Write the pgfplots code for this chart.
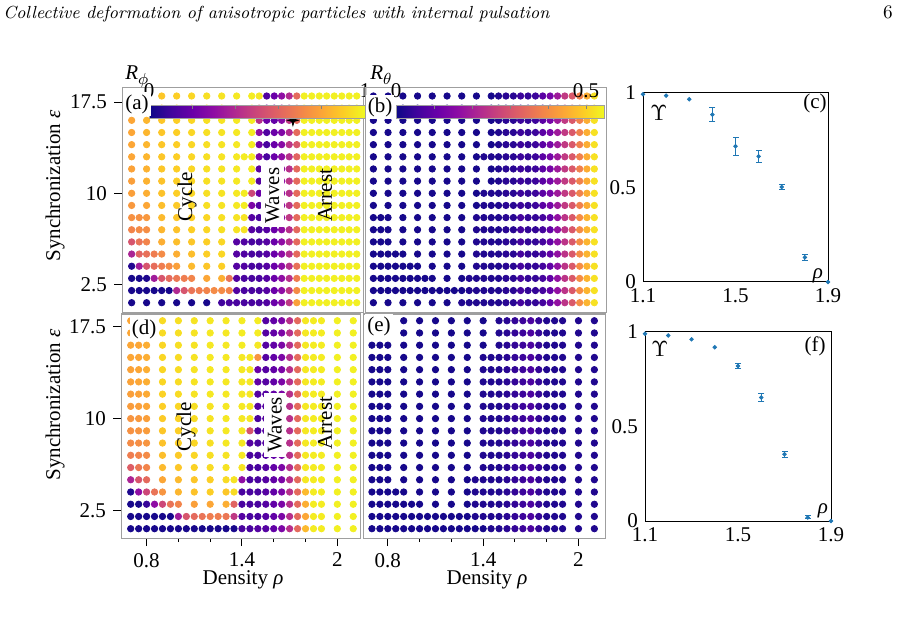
\documentclass[border=0pt]{standalone}
\usepackage{pgfplots}
\pgfplotsset{compat=1.18}
\usepackage{pgfplotstable}
\usepackage{fontspec}
\newfontfamily\tnr{Liberation Serif}
\newcommand\lab{\tnr\fontsize{10.5}{12}\selectfont}
\definecolor{mplblue}{RGB}{31,119,180}

% four-pointed star marker
\pgfdeclareplotmark{fourstar}{%
  \pgfpathmoveto{\pgfqpoint{0pt}{\pgfplotmarksize}}%
  \pgfpathlineto{\pgfqpoint{0.22\pgfplotmarksize}{0.22\pgfplotmarksize}}%
  \pgfpathlineto{\pgfqpoint{\pgfplotmarksize}{0pt}}%
  \pgfpathlineto{\pgfqpoint{0.22\pgfplotmarksize}{-0.22\pgfplotmarksize}}%
  \pgfpathlineto{\pgfqpoint{0pt}{-\pgfplotmarksize}}%
  \pgfpathlineto{\pgfqpoint{-0.22\pgfplotmarksize}{-0.22\pgfplotmarksize}}%
  \pgfpathlineto{\pgfqpoint{-\pgfplotmarksize}{0pt}}%
  \pgfpathlineto{\pgfqpoint{-0.22\pgfplotmarksize}{0.22\pgfplotmarksize}}%
  \pgfpathclose\pgfusepathqfillstroke}

\pgfplotsset{
  colormap={plasma}{rgb255=(13,8,135) rgb255=(65,4,157) rgb255=(106,0,168) rgb255=(143,13,164) rgb255=(177,42,144) rgb255=(204,71,120) rgb255=(225,100,98) rgb255=(242,132,75) rgb255=(252,166,54) rgb255=(252,206,37) rgb255=(240,249,33)},
  phase/.style={scale only axis, anchor=south west, colormap name=plasma,
    axis line style={gray!75, line width=0.5pt},
    tick style={black, line width=0.5pt}, tick align=outside,
    major tick length=4pt, minor tick length=2pt,
    xtick=\empty, ytick=\empty, ticklabel style={font=\lab}},
  dots/.style={scatter, only marks, mark=*, mark size=1.6pt, point meta=explicit,
    scatter/use mapped color={draw=mapped color, fill=mapped color}},
  ypanel/.style={ytick={2.5,10,17.5}, yticklabels={2.5,10,17.5}, ytick pos=left},
  xpanel/.style={xtick={0.8,1.4,2}, xticklabels={0.8,1.4,2}, minor xtick={1.0,1.2,1.6,1.8}, xtick pos=left},
  cbar/.style={colorbar horizontal, colorbar style={at={([yshift=7.2pt]parent axis.north west)}, anchor=north west,
    scale only axis, xshift=#1, height=6.5pt,
    xticklabel pos=right, xtick pos=right, tick align=inside, major tick length=2pt,
    tick style={gray, line width=0.4pt}, axis line style={gray!75, line width=0.5pt},
    ticklabel style={font=\lab}}},
  ups/.style={scale only axis, anchor=south west, xmin=1.1, xmax=1.9, ymin=0, ymax=1,
    xtick={1.1,1.5,1.9}, xticklabels={1.1,1.5,1.9}, ytick={0,0.5,1}, yticklabels={0,0.5,1},
    major tick length=2pt, tick style={draw=none}, ticklabel style={font=\lab},
    axis line style={black, line width=0.5pt}, clip=false},
  ebar/.style={mplblue, line width=0.5pt, unbounded coords=jump},
  ecap/.style={mplblue, only marks, mark=-, mark size=1.5pt, mark options={line width=0.5pt}},
  epnt/.style={mplblue, only marks, mark=*, mark size=0.9pt},
}

% upper row: x = density, y = synchronization, a = R_phi, b = R_theta
\pgfplotstableread[row sep=\\]{
x y a b\\
0.700 18 0.80 0.01\\ 0.793 18 0.84 0.01\\ 0.887 18 0.88 0.01\\ 0.980 18 0.90 0.01\\ 1.073 18 0.92 0.01\\ 1.167 18 0.94 0.01\\ 1.260 18 0.95 0.01\\ 1.353 18 0.96 0.01\\ 1.447 18 0.97 0.01\\
1.493 18 0.96 0.02\\ 1.540 18 0.14 0.03\\ 1.587 18 0.20 0.03\\ 1.633 18 0.30 0.05\\ 1.680 18 0.40 0.04\\ 1.727 18 0.62 0.05\\
1.773 18 0.98 0.09\\ 1.820 18 0.98 0.13\\ 1.867 18 0.98 0.19\\ 1.913 18 0.98 0.25\\ 1.960 18 0.98 0.31\\ 2.007 18 0.98 0.38\\ 2.053 18 0.98 0.45\\ 2.100 18 0.98 0.52\\
0.700 17 0.80 0.01\\ 0.793 17 0.84 0.01\\ 0.887 17 0.88 0.01\\ 0.980 17 0.90 0.01\\ 1.073 17 0.92 0.01\\ 1.167 17 0.94 0.01\\ 1.260 17 0.95 0.01\\ 1.353 17 0.96 0.01\\ 1.447 17 0.97 0.01\\
1.493 17 0.60 0.02\\ 1.540 17 0.18 0.03\\ 1.587 17 0.22 0.03\\ 1.633 17 0.34 0.05\\ 1.680 17 0.42 0.04\\ 1.727 17 0.64 0.05\\
1.773 17 0.98 0.09\\ 1.820 17 0.98 0.13\\ 1.867 17 0.98 0.19\\ 1.913 17 0.98 0.25\\ 1.960 17 0.98 0.31\\ 2.007 17 0.98 0.38\\ 2.053 17 0.98 0.45\\ 2.100 17 0.98 0.52\\
0.700 16 0.80 0.01\\ 0.793 16 0.84 0.01\\ 0.887 16 0.88 0.01\\ 0.980 16 0.90 0.01\\ 1.073 16 0.92 0.01\\ 1.167 16 0.94 0.01\\ 1.260 16 0.95 0.01\\ 1.353 16 0.96 0.01\\ 1.447 16 0.97 0.01\\
1.493 16 0.42 0.02\\ 1.540 16 0.20 0.03\\ 1.587 16 0.18 0.03\\ 1.633 16 0.28 0.05\\ 1.680 16 0.45 0.04\\ 1.727 16 0.62 0.05\\
1.773 16 0.98 0.09\\ 1.820 16 0.98 0.13\\ 1.867 16 0.98 0.19\\ 1.913 16 0.98 0.25\\ 1.960 16 0.98 0.31\\ 2.007 16 0.98 0.38\\ 2.053 16 0.98 0.45\\ 2.100 16 0.98 0.52\\
0.700 15 0.80 0.01\\ 0.793 15 0.84 0.01\\ 0.887 15 0.88 0.01\\ 0.980 15 0.90 0.01\\ 1.073 15 0.92 0.01\\ 1.167 15 0.94 0.01\\ 1.260 15 0.95 0.01\\ 1.353 15 0.96 0.01\\ 1.447 15 0.97 0.01\\
1.493 15 0.30 0.02\\ 1.540 15 0.14 0.03\\ 1.587 15 0.20 0.03\\ 1.633 15 0.26 0.05\\ 1.680 15 0.40 0.04\\ 1.727 15 0.62 0.05\\
1.773 15 0.98 0.09\\ 1.820 15 0.98 0.13\\ 1.867 15 0.98 0.19\\ 1.913 15 0.98 0.25\\ 1.960 15 0.98 0.31\\ 2.007 15 0.98 0.38\\ 2.053 15 0.98 0.45\\ 2.100 15 0.98 0.52\\
0.700 14 0.80 0.01\\ 0.793 14 0.84 0.01\\ 0.887 14 0.88 0.01\\ 0.980 14 0.90 0.01\\ 1.073 14 0.92 0.01\\ 1.167 14 0.94 0.01\\ 1.260 14 0.95 0.01\\ 1.353 14 0.96 0.01\\ 1.447 14 0.97 0.01\\
1.493 14 0.22 0.02\\ 1.540 14 0.12 0.03\\ 1.587 14 0.20 0.03\\ 1.633 14 0.28 0.05\\ 1.680 14 0.44 0.04\\ 1.727 14 0.56 0.05\\
1.773 14 0.98 0.09\\ 1.820 14 0.98 0.13\\ 1.867 14 0.98 0.19\\ 1.913 14 0.98 0.25\\ 1.960 14 0.98 0.31\\ 2.007 14 0.98 0.38\\ 2.053 14 0.98 0.45\\ 2.100 14 0.98 0.52\\
0.700 13 0.80 0.01\\ 0.793 13 0.84 0.01\\ 0.887 13 0.88 0.01\\ 0.980 13 0.90 0.01\\ 1.073 13 0.92 0.01\\ 1.167 13 0.94 0.01\\ 1.260 13 0.95 0.01\\ 1.353 13 0.96 0.01\\ 1.400 13 0.97 0.02\\ 1.447 13 0.97 0.02\\
1.493 13 0.25 0.02\\ 1.540 13 0.12 0.03\\ 1.587 13 0.20 0.03\\ 1.633 13 0.30 0.05\\ 1.680 13 0.42 0.04\\ 1.727 13 0.60 0.05\\
1.773 13 0.98 0.09\\ 1.820 13 0.98 0.13\\ 1.867 13 0.98 0.19\\ 1.913 13 0.98 0.25\\ 1.960 13 0.98 0.31\\ 2.007 13 0.98 0.38\\ 2.053 13 0.98 0.45\\ 2.100 13 0.98 0.52\\
0.700 12 0.79 0.01\\ 0.793 12 0.83 0.01\\ 0.887 12 0.88 0.01\\ 0.980 12 0.90 0.01\\ 1.073 12 0.92 0.01\\ 1.167 12 0.94 0.01\\ 1.260 12 0.95 0.01\\ 1.353 12 0.96 0.01\\ 1.447 12 0.97 0.01\\
1.493 12 0.16 0.02\\ 1.540 12 0.12 0.03\\ 1.587 12 0.22 0.03\\ 1.633 12 0.30 0.05\\ 1.680 12 0.42 0.04\\ 1.727 12 0.62 0.05\\
1.773 12 0.98 0.09\\ 1.820 12 0.98 0.13\\ 1.867 12 0.98 0.19\\ 1.913 12 0.98 0.25\\ 1.960 12 0.98 0.31\\ 2.007 12 0.98 0.38\\ 2.053 12 0.98 0.45\\ 2.100 12 0.98 0.52\\
0.700 11 0.78 0.01\\ 0.793 11 0.83 0.01\\ 0.887 11 0.87 0.01\\ 0.980 11 0.90 0.01\\ 1.073 11 0.92 0.01\\ 1.167 11 0.94 0.01\\ 1.260 11 0.95 0.01\\ 1.353 11 0.96 0.01\\ 1.447 11 0.97 0.01\\
1.493 11 0.15 0.02\\ 1.540 11 0.12 0.03\\ 1.587 11 0.20 0.03\\ 1.633 11 0.30 0.05\\ 1.680 11 0.44 0.04\\ 1.727 11 0.62 0.05\\
1.773 11 0.98 0.09\\ 1.820 11 0.98 0.13\\ 1.867 11 0.98 0.19\\ 1.913 11 0.98 0.25\\ 1.960 11 0.98 0.31\\ 2.007 11 0.98 0.38\\ 2.053 11 0.98 0.45\\ 2.100 11 0.98 0.52\\
0.700 10 0.78 0.01\\ 0.793 10 0.82 0.01\\ 0.887 10 0.87 0.01\\ 0.980 10 0.90 0.01\\ 1.073 10 0.92 0.01\\ 1.167 10 0.94 0.01\\ 1.260 10 0.95 0.01\\ 1.353 10 0.96 0.01\\ 1.400 10 0.97 0.02\\ 1.447 10 0.50 0.02\\
1.493 10 0.20 0.02\\ 1.540 10 0.12 0.03\\ 1.587 10 0.20 0.03\\ 1.633 10 0.30 0.05\\ 1.680 10 0.42 0.04\\ 1.727 10 0.62 0.05\\
1.773 10 0.98 0.09\\ 1.820 10 0.98 0.13\\ 1.867 10 0.98 0.19\\ 1.913 10 0.98 0.25\\ 1.960 10 0.98 0.31\\ 2.007 10 0.98 0.38\\ 2.053 10 0.98 0.45\\ 2.100 10 0.98 0.52\\
0.700 9 0.76 0.01\\ 0.793 9 0.80 0.01\\ 0.887 9 0.86 0.01\\ 0.980 9 0.89 0.01\\ 1.073 9 0.92 0.01\\ 1.167 9 0.94 0.01\\ 1.260 9 0.95 0.01\\ 1.353 9 0.96 0.01\\ 1.400 9 0.97 0.02\\ 1.447 9 0.25 0.02\\
1.493 9 0.15 0.02\\ 1.540 9 0.12 0.03\\ 1.587 9 0.20 0.03\\ 1.633 9 0.30 0.05\\ 1.680 9 0.44 0.04\\ 1.727 9 0.62 0.05\\
1.773 9 0.98 0.09\\ 1.820 9 0.98 0.13\\ 1.867 9 0.98 0.19\\ 1.913 9 0.98 0.25\\ 1.960 9 0.98 0.31\\ 2.007 9 0.98 0.38\\ 2.053 9 0.98 0.45\\ 2.100 9 0.98 0.52\\
0.700 8 0.74 0.01\\ 0.747 8 0.74 0.01\\ 0.793 8 0.76 0.01\\ 0.887 8 0.85 0.01\\ 0.980 8 0.88 0.01\\ 1.073 8 0.90 0.01\\ 1.167 8 0.92 0.01\\ 1.260 8 0.94 0.01\\ 1.353 8 0.95 0.02\\ 1.400 8 0.95 0.02\\ 1.447 8 0.15 0.02\\
1.493 8 0.12 0.02\\ 1.540 8 0.12 0.03\\ 1.587 8 0.20 0.03\\ 1.633 8 0.30 0.06\\ 1.680 8 0.45 0.04\\ 1.727 8 0.62 0.04\\
1.773 8 0.98 0.06\\ 1.820 8 0.98 0.10\\ 1.867 8 0.98 0.17\\ 1.913 8 0.98 0.24\\ 1.960 8 0.98 0.31\\ 2.007 8 0.98 0.40\\ 2.053 8 0.98 0.46\\ 2.100 8 0.98 0.52\\
0.700 7 0.70 0.01\\ 0.747 7 0.72 0.01\\ 0.793 7 0.73 0.01\\ 0.887 7 0.84 0.01\\ 0.980 7 0.87 0.01\\ 1.073 7 0.90 0.01\\ 1.167 7 0.92 0.01\\ 1.260 7 0.94 0.01\\ 1.353 7 0.95 0.02\\ 1.400 7 0.95 0.02\\ 1.447 7 0.15 0.02\\
1.493 7 0.12 0.02\\ 1.540 7 0.15 0.03\\ 1.587 7 0.20 0.03\\ 1.633 7 0.30 0.06\\ 1.680 7 0.42 0.04\\ 1.727 7 0.62 0.04\\
1.773 7 0.98 0.06\\ 1.820 7 0.98 0.10\\ 1.867 7 0.98 0.17\\ 1.913 7 0.98 0.24\\ 1.960 7 0.98 0.31\\ 2.007 7 0.98 0.40\\ 2.053 7 0.98 0.46\\ 2.100 7 0.98 0.52\\
0.700 6 0.55 0.01\\ 0.747 6 0.65 0.01\\ 0.793 6 0.70 0.01\\ 0.887 6 0.82 0.01\\ 0.980 6 0.86 0.01\\ 1.073 6 0.88 0.01\\ 1.167 6 0.90 0.01\\ 1.260 6 0.92 0.01\\ 1.353 6 0.15 0.02\\ 1.400 6 0.14 0.02\\ 1.447 6 0.12 0.02\\
1.493 6 0.12 0.02\\ 1.540 6 0.15 0.03\\ 1.587 6 0.20 0.03\\ 1.633 6 0.30 0.06\\ 1.680 6 0.42 0.04\\ 1.727 6 0.62 0.04\\
1.773 6 0.98 0.06\\ 1.820 6 0.98 0.10\\ 1.867 6 0.98 0.17\\ 1.913 6 0.98 0.24\\ 1.960 6 0.98 0.31\\ 2.007 6 0.98 0.40\\ 2.053 6 0.98 0.46\\ 2.100 6 0.98 0.52\\
0.700 5 0.38 0.01\\ 0.747 5 0.60 0.01\\ 0.793 5 0.64 0.01\\ 0.840 5 0.68 0.01\\ 0.887 5 0.72 0.01\\ 0.980 5 0.82 0.01\\ 1.073 5 0.86 0.01\\ 1.167 5 0.90 0.01\\ 1.260 5 0.92 0.01\\ 1.353 5 0.15 0.02\\ 1.400 5 0.14 0.02\\ 1.447 5 0.12 0.02\\
1.493 5 0.12 0.02\\ 1.540 5 0.15 0.03\\ 1.587 5 0.20 0.03\\ 1.633 5 0.30 0.06\\ 1.680 5 0.42 0.04\\ 1.727 5 0.62 0.04\\
1.773 5 0.98 0.06\\ 1.820 5 0.98 0.10\\ 1.867 5 0.98 0.17\\ 1.913 5 0.98 0.24\\ 1.960 5 0.98 0.31\\ 2.007 5 0.98 0.40\\ 2.053 5 0.98 0.46\\ 2.100 5 0.98 0.52\\
0.700 4 0.04 0.01\\ 0.747 4 0.35 0.01\\ 0.793 4 0.55 0.01\\ 0.840 4 0.63 0.01\\ 0.887 4 0.68 0.01\\ 0.933 4 0.72 0.01\\ 0.980 4 0.78 0.01\\ 1.073 4 0.85 0.01\\ 1.167 4 0.88 0.01\\ 1.260 4 0.90 0.01\\ 1.353 4 0.15 0.02\\ 1.400 4 0.14 0.02\\ 1.447 4 0.12 0.02\\
1.493 4 0.12 0.02\\ 1.540 4 0.15 0.03\\ 1.587 4 0.20 0.03\\ 1.633 4 0.30 0.06\\ 1.680 4 0.42 0.04\\ 1.727 4 0.64 0.04\\
1.773 4 0.98 0.06\\ 1.820 4 0.98 0.10\\ 1.867 4 0.98 0.17\\ 1.913 4 0.98 0.24\\ 1.960 4 0.98 0.31\\ 2.007 4 0.98 0.40\\ 2.053 4 0.98 0.46\\ 2.100 4 0.98 0.52\\
0.700 3 0.02 0.01\\ 0.747 3 0.02 0.01\\ 0.793 3 0.03 0.01\\ 0.840 3 0.35 0.01\\ 0.887 3 0.55 0.01\\ 0.933 3 0.62 0.01\\ 0.980 3 0.66 0.01\\ 1.027 3 0.68 0.01\\ 1.073 3 0.70 0.01\\ 1.167 3 0.80 0.01\\ 1.260 3 0.82 0.01\\ 1.307 3 0.65 0.02\\ 1.353 3 0.14 0.02\\ 1.400 3 0.12 0.02\\ 1.447 3 0.12 0.02\\
1.493 3 0.12 0.02\\ 1.540 3 0.15 0.03\\ 1.587 3 0.20 0.03\\ 1.633 3 0.30 0.06\\ 1.680 3 0.42 0.04\\ 1.727 3 0.68 0.04\\
1.773 3 0.98 0.06\\ 1.820 3 0.98 0.10\\ 1.867 3 0.98 0.17\\ 1.913 3 0.98 0.24\\ 1.960 3 0.98 0.31\\ 2.007 3 0.98 0.40\\ 2.053 3 0.98 0.46\\ 2.100 3 0.98 0.52\\
0.700 2 0.02 0.01\\ 0.747 2 0.02 0.01\\ 0.793 2 0.02 0.01\\ 0.840 2 0.02 0.01\\ 0.887 2 0.02 0.01\\ 0.933 2 0.02 0.01\\ 0.980 2 0.40 0.01\\ 1.027 2 0.55 0.01\\ 1.073 2 0.65 0.01\\ 1.120 2 0.68 0.01\\ 1.167 2 0.70 0.01\\ 1.213 2 0.72 0.01\\ 1.260 2 0.72 0.01\\ 1.307 2 0.70 0.02\\ 1.353 2 0.14 0.02\\ 1.400 2 0.12 0.02\\ 1.447 2 0.12 0.02\\
1.493 2 0.12 0.02\\ 1.540 2 0.15 0.03\\ 1.587 2 0.20 0.03\\ 1.633 2 0.30 0.06\\ 1.680 2 0.45 0.04\\ 1.727 2 0.72 0.04\\
1.773 2 0.98 0.06\\ 1.820 2 0.98 0.10\\ 1.867 2 0.98 0.17\\ 1.913 2 0.98 0.24\\ 1.960 2 0.98 0.31\\ 2.007 2 0.98 0.40\\ 2.053 2 0.98 0.46\\ 2.100 2 0.98 0.52\\
0.700 1 0.02 0.01\\ 0.793 1 0.02 0.01\\ 0.887 1 0.02 0.01\\ 0.980 1 0.02 0.01\\ 1.073 1 0.02 0.01\\ 1.167 1 0.02 0.01\\ 1.260 1 0.10 0.02\\ 1.307 1 0.12 0.02\\ 1.353 1 0.12 0.02\\ 1.400 1 0.12 0.02\\ 1.447 1 0.12 0.02\\
1.493 1 0.12 0.02\\ 1.540 1 0.14 0.03\\ 1.587 1 0.20 0.03\\ 1.633 1 0.28 0.06\\ 1.680 1 0.45 0.04\\ 1.727 1 0.78 0.04\\
1.773 1 0.98 0.06\\ 1.820 1 0.98 0.10\\ 1.867 1 0.98 0.17\\ 1.913 1 0.98 0.24\\ 1.960 1 0.98 0.31\\ 2.007 1 0.98 0.40\\ 2.053 1 0.98 0.46\\ 2.100 1 0.98 0.52\\
}\gridtop

% lower row: x = density, y = synchronization, d = R_phi, e = R_theta
\pgfplotstableread[row sep=\\]{
x y d e\\
0.7 18 0.80 0.01\\ 0.8 18 0.85 0.01\\ 0.9 18 0.93 0.01\\ 1.0 18 0.94 0.01\\ 1.1 18 0.95 0.01\\ 1.2 18 0.96 0.01\\ 1.3 18 0.96 0.01\\ 1.4 18 0.97 0.01\\ 1.5 18 0.97 0.02\\
1.55 18 0.15 0.03\\ 1.6 18 0.18 0.04\\ 1.65 18 0.25 0.05\\ 1.7 18 0.42 0.07\\ 1.75 18 0.62 0.04\\ 1.8 18 0.96 0.02\\ 1.85 18 0.97 0.02\\ 1.9 18 0.97 0.02\\ 2.0 18 0.98 0.02\\ 2.1 18 0.98 0.02\\
0.7 17 0.80 0.01\\ 0.8 17 0.85 0.01\\ 0.9 17 0.93 0.01\\ 1.0 17 0.94 0.01\\ 1.1 17 0.95 0.01\\ 1.2 17 0.96 0.01\\ 1.3 17 0.96 0.01\\ 1.4 17 0.97 0.01\\ 1.5 17 0.97 0.02\\
1.55 17 0.15 0.03\\ 1.6 17 0.18 0.04\\ 1.65 17 0.25 0.05\\ 1.7 17 0.42 0.07\\ 1.75 17 0.62 0.04\\ 1.8 17 0.96 0.02\\ 1.85 17 0.97 0.02\\ 1.9 17 0.97 0.02\\ 2.0 17 0.98 0.02\\ 2.1 17 0.98 0.02\\
0.7 16 0.80 0.01\\ 0.75 16 0.80 0.01\\ 0.8 16 0.82 0.01\\ 0.9 16 0.92 0.01\\ 1.0 16 0.94 0.01\\ 1.1 16 0.95 0.01\\ 1.2 16 0.96 0.01\\ 1.3 16 0.96 0.01\\ 1.4 16 0.97 0.01\\ 1.5 16 0.96 0.02\\
1.55 16 0.15 0.03\\ 1.6 16 0.18 0.04\\ 1.65 16 0.25 0.05\\ 1.7 16 0.42 0.07\\ 1.75 16 0.62 0.04\\ 1.8 16 0.96 0.02\\ 1.85 16 0.97 0.02\\ 1.9 16 0.97 0.02\\ 2.0 16 0.98 0.02\\ 2.1 16 0.98 0.02\\
0.7 15 0.80 0.01\\ 0.75 15 0.80 0.01\\ 0.8 15 0.82 0.01\\ 0.9 15 0.92 0.01\\ 1.0 15 0.93 0.01\\ 1.1 15 0.95 0.01\\ 1.2 15 0.96 0.01\\ 1.3 15 0.96 0.01\\ 1.4 15 0.96 0.02\\ 1.45 15 0.96 0.02\\ 1.5 15 0.75 0.02\\
1.55 15 0.15 0.03\\ 1.6 15 0.18 0.04\\ 1.65 15 0.25 0.05\\ 1.7 15 0.42 0.07\\ 1.75 15 0.62 0.04\\ 1.8 15 0.96 0.02\\ 1.85 15 0.97 0.02\\ 1.9 15 0.97 0.02\\ 2.0 15 0.98 0.02\\ 2.1 15 0.98 0.02\\
0.7 14 0.79 0.01\\ 0.75 14 0.80 0.01\\ 0.8 14 0.82 0.01\\ 0.9 14 0.92 0.01\\ 1.0 14 0.93 0.01\\ 1.1 14 0.95 0.01\\ 1.2 14 0.96 0.01\\ 1.3 14 0.96 0.01\\ 1.4 14 0.96 0.02\\ 1.45 14 0.96 0.02\\ 1.5 14 0.20 0.02\\
1.55 14 0.15 0.03\\ 1.6 14 0.18 0.04\\ 1.65 14 0.25 0.05\\ 1.7 14 0.42 0.07\\ 1.75 14 0.62 0.04\\ 1.8 14 0.96 0.02\\ 1.85 14 0.97 0.02\\ 1.9 14 0.97 0.02\\ 2.0 14 0.98 0.02\\ 2.1 14 0.98 0.02\\
0.7 13 0.79 0.01\\ 0.75 13 0.80 0.01\\ 0.8 13 0.82 0.01\\ 0.9 13 0.92 0.01\\ 1.0 13 0.93 0.01\\ 1.1 13 0.95 0.01\\ 1.2 13 0.96 0.01\\ 1.3 13 0.96 0.01\\ 1.4 13 0.96 0.02\\ 1.45 13 0.96 0.02\\ 1.5 13 0.18 0.02\\
1.55 13 0.15 0.03\\ 1.6 13 0.18 0.04\\ 1.65 13 0.25 0.05\\ 1.7 13 0.42 0.07\\ 1.75 13 0.62 0.04\\ 1.8 13 0.96 0.02\\ 1.85 13 0.97 0.02\\ 1.9 13 0.97 0.02\\ 2.0 13 0.98 0.02\\ 2.1 13 0.98 0.02\\
0.7 12 0.78 0.01\\ 0.75 12 0.79 0.01\\ 0.8 12 0.81 0.01\\ 0.9 12 0.91 0.01\\ 1.0 12 0.93 0.01\\ 1.1 12 0.95 0.01\\ 1.2 12 0.96 0.01\\ 1.3 12 0.96 0.01\\ 1.4 12 0.96 0.02\\ 1.45 12 0.96 0.02\\ 1.5 12 0.15 0.02\\
1.55 12 0.15 0.03\\ 1.6 12 0.18 0.04\\ 1.65 12 0.25 0.05\\ 1.7 12 0.42 0.07\\ 1.75 12 0.62 0.04\\ 1.8 12 0.96 0.02\\ 1.85 12 0.97 0.02\\ 1.9 12 0.97 0.02\\ 2.0 12 0.98 0.02\\ 2.1 12 0.98 0.02\\
0.7 11 0.77 0.01\\ 0.75 11 0.78 0.01\\ 0.8 11 0.80 0.01\\ 0.9 11 0.90 0.01\\ 1.0 11 0.92 0.01\\ 1.1 11 0.94 0.01\\ 1.2 11 0.95 0.01\\ 1.3 11 0.96 0.01\\ 1.4 11 0.96 0.02\\ 1.45 11 0.96 0.02\\ 1.5 11 0.15 0.02\\
1.55 11 0.15 0.03\\ 1.6 11 0.18 0.04\\ 1.65 11 0.25 0.05\\ 1.7 11 0.42 0.07\\ 1.75 11 0.62 0.04\\ 1.8 11 0.96 0.02\\ 1.85 11 0.97 0.02\\ 1.9 11 0.97 0.02\\ 2.0 11 0.98 0.02\\ 2.1 11 0.98 0.02\\
0.7 10 0.75 0.01\\ 0.75 10 0.76 0.01\\ 0.8 10 0.78 0.01\\ 0.9 10 0.89 0.01\\ 1.0 10 0.91 0.01\\ 1.1 10 0.93 0.01\\ 1.2 10 0.95 0.01\\ 1.3 10 0.96 0.01\\ 1.4 10 0.96 0.02\\ 1.45 10 0.96 0.02\\ 1.5 10 0.12 0.02\\
1.55 10 0.15 0.03\\ 1.6 10 0.18 0.04\\ 1.65 10 0.25 0.05\\ 1.7 10 0.42 0.07\\ 1.75 10 0.62 0.04\\ 1.8 10 0.96 0.02\\ 1.85 10 0.97 0.02\\ 1.9 10 0.97 0.02\\ 2.0 10 0.98 0.02\\ 2.1 10 0.98 0.02\\
0.7 9 0.74 0.01\\ 0.75 9 0.75 0.01\\ 0.8 9 0.77 0.01\\ 0.9 9 0.88 0.01\\ 1.0 9 0.90 0.01\\ 1.1 9 0.93 0.01\\ 1.2 9 0.95 0.01\\ 1.3 9 0.96 0.01\\ 1.4 9 0.96 0.02\\ 1.45 9 0.55 0.02\\ 1.5 9 0.12 0.02\\
1.55 9 0.15 0.03\\ 1.6 9 0.18 0.04\\ 1.65 9 0.25 0.05\\ 1.7 9 0.42 0.07\\ 1.75 9 0.62 0.04\\ 1.8 9 0.96 0.02\\ 1.85 9 0.97 0.02\\ 1.9 9 0.97 0.02\\ 2.0 9 0.98 0.02\\ 2.1 9 0.98 0.02\\
0.7 8 0.72 0.01\\ 0.75 8 0.73 0.01\\ 0.8 8 0.75 0.01\\ 0.9 8 0.87 0.01\\ 1.0 8 0.90 0.01\\ 1.1 8 0.92 0.01\\ 1.2 8 0.94 0.01\\ 1.3 8 0.96 0.01\\ 1.4 8 0.96 0.02\\ 1.45 8 0.15 0.02\\ 1.5 8 0.12 0.02\\
1.55 8 0.15 0.03\\ 1.6 8 0.18 0.04\\ 1.65 8 0.25 0.05\\ 1.7 8 0.42 0.07\\ 1.75 8 0.62 0.04\\ 1.8 8 0.96 0.02\\ 1.85 8 0.97 0.02\\ 1.9 8 0.97 0.02\\ 2.0 8 0.98 0.02\\ 2.1 8 0.98 0.02\\
0.7 7 0.68 0.01\\ 0.75 7 0.70 0.01\\ 0.8 7 0.72 0.01\\ 0.9 7 0.86 0.01\\ 1.0 7 0.89 0.01\\ 1.1 7 0.92 0.01\\ 1.2 7 0.94 0.01\\ 1.3 7 0.95 0.01\\ 1.4 7 0.96 0.02\\ 1.45 7 0.12 0.02\\ 1.5 7 0.12 0.02\\
1.55 7 0.15 0.03\\ 1.6 7 0.18 0.04\\ 1.65 7 0.25 0.05\\ 1.7 7 0.42 0.07\\ 1.75 7 0.62 0.04\\ 1.8 7 0.96 0.02\\ 1.85 7 0.97 0.02\\ 1.9 7 0.97 0.02\\ 2.0 7 0.98 0.02\\ 2.1 7 0.98 0.02\\
0.7 6 0.58 0.01\\ 0.75 6 0.66 0.01\\ 0.8 6 0.70 0.01\\ 0.9 6 0.85 0.01\\ 1.0 6 0.88 0.01\\ 1.1 6 0.91 0.01\\ 1.2 6 0.93 0.01\\ 1.3 6 0.95 0.01\\ 1.4 6 0.95 0.02\\ 1.45 6 0.12 0.02\\ 1.5 6 0.12 0.02\\
1.55 6 0.15 0.03\\ 1.6 6 0.18 0.04\\ 1.65 6 0.25 0.05\\ 1.7 6 0.42 0.07\\ 1.75 6 0.62 0.04\\ 1.8 6 0.96 0.02\\ 1.85 6 0.97 0.02\\ 1.9 6 0.97 0.02\\ 2.0 6 0.98 0.02\\ 2.1 6 0.98 0.02\\
0.7 5 0.38 0.01\\ 0.75 5 0.55 0.01\\ 0.8 5 0.62 0.01\\ 0.9 5 0.80 0.01\\ 1.0 5 0.85 0.01\\ 1.1 5 0.88 0.01\\ 1.2 5 0.90 0.01\\ 1.3 5 0.93 0.01\\ 1.35 5 0.95 0.02\\ 1.4 5 0.30 0.02\\ 1.45 5 0.12 0.02\\ 1.5 5 0.12 0.02\\
1.55 5 0.15 0.03\\ 1.6 5 0.18 0.04\\ 1.65 5 0.25 0.05\\ 1.7 5 0.42 0.07\\ 1.75 5 0.62 0.04\\ 1.8 5 0.96 0.02\\ 1.85 5 0.97 0.02\\ 1.9 5 0.97 0.02\\ 2.0 5 0.98 0.02\\ 2.1 5 0.98 0.02\\
0.7 4 0.03 0.01\\ 0.75 4 0.30 0.01\\ 0.8 4 0.50 0.01\\ 0.85 4 0.65 0.01\\ 0.9 4 0.75 0.01\\ 1.0 4 0.84 0.01\\ 1.1 4 0.87 0.01\\ 1.2 4 0.90 0.01\\ 1.3 4 0.88 0.01\\ 1.35 4 0.93 0.02\\ 1.4 4 0.12 0.02\\ 1.45 4 0.12 0.02\\ 1.5 4 0.12 0.02\\
1.55 4 0.15 0.03\\ 1.6 4 0.18 0.04\\ 1.65 4 0.25 0.05\\ 1.7 4 0.42 0.07\\ 1.75 4 0.62 0.04\\ 1.8 4 0.85 0.02\\ 1.85 4 0.97 0.02\\ 1.9 4 0.97 0.02\\ 2.0 4 0.98 0.02\\ 2.1 4 0.98 0.02\\
0.7 3 0.02 0.01\\ 0.75 3 0.02 0.01\\ 0.8 3 0.08 0.01\\ 0.85 3 0.30 0.01\\ 0.9 3 0.50 0.01\\ 0.95 3 0.65 0.01\\ 1.0 3 0.70 0.01\\ 1.1 3 0.78 0.01\\ 1.2 3 0.80 0.01\\ 1.3 3 0.82 0.01\\ 1.35 3 0.60 0.02\\ 1.4 3 0.12 0.02\\ 1.45 3 0.12 0.02\\ 1.5 3 0.12 0.02\\
1.55 3 0.15 0.03\\ 1.6 3 0.18 0.04\\ 1.65 3 0.25 0.05\\ 1.7 3 0.42 0.07\\ 1.75 3 0.62 0.04\\ 1.8 3 0.82 0.02\\ 1.85 3 0.97 0.02\\ 1.9 3 0.97 0.02\\ 2.0 3 0.98 0.02\\ 2.1 3 0.98 0.02\\
0.7 2 0.02 0.01\\ 0.75 2 0.02 0.01\\ 0.8 2 0.02 0.01\\ 0.85 2 0.02 0.01\\ 0.9 2 0.02 0.01\\ 0.95 2 0.02 0.01\\ 1.0 2 0.35 0.01\\ 1.05 2 0.55 0.01\\ 1.1 2 0.62 0.01\\ 1.15 2 0.65 0.01\\ 1.2 2 0.68 0.01\\ 1.25 2 0.68 0.01\\ 1.3 2 0.66 0.01\\ 1.35 2 0.45 0.02\\ 1.4 2 0.15 0.02\\ 1.45 2 0.12 0.02\\ 1.5 2 0.12 0.02\\
1.55 2 0.15 0.03\\ 1.6 2 0.18 0.04\\ 1.65 2 0.25 0.05\\ 1.7 2 0.42 0.07\\ 1.75 2 0.62 0.04\\ 1.8 2 0.80 0.02\\ 1.85 2 0.97 0.02\\ 1.9 2 0.97 0.02\\ 2.0 2 0.98 0.02\\ 2.1 2 0.98 0.02\\
0.7 1 0.02 0.01\\ 0.75 1 0.02 0.01\\ 0.8 1 0.02 0.01\\ 0.85 1 0.02 0.01\\ 0.9 1 0.02 0.01\\ 0.95 1 0.02 0.01\\ 1.0 1 0.02 0.01\\ 1.05 1 0.02 0.01\\ 1.1 1 0.02 0.01\\ 1.15 1 0.02 0.01\\ 1.2 1 0.02 0.01\\ 1.25 1 0.02 0.01\\ 1.3 1 0.02 0.01\\ 1.35 1 0.02 0.01\\ 1.4 1 0.12 0.01\\ 1.45 1 0.12 0.02\\ 1.5 1 0.15 0.02\\
1.55 1 0.15 0.03\\ 1.6 1 0.18 0.04\\ 1.65 1 0.25 0.05\\ 1.7 1 0.42 0.07\\ 1.75 1 0.62 0.04\\ 1.8 1 0.85 0.02\\ 1.85 1 0.97 0.02\\ 1.9 1 0.97 0.02\\ 2.0 1 0.98 0.02\\ 2.1 1 0.98 0.02\\
}\gridbottom

\begin{document}
\begin{tikzpicture}[x=0.5pt,y=0.5pt]
\path[use as bounding box] (0,0) rectangle (898,621);

% running head
\node[anchor=base west, inner sep=0pt, font=\itshape\fontsize{8.75}{11}\selectfont] at (3,602)
  {Collective deformation of anisotropic particles with internal pulsation};
\node[anchor=base east, inner sep=0pt, font=\fontsize{9.6}{11}\selectfont] at (893,602) {6};

% (c) order parameter versus density, upper row
\begin{axis}[ups, at={(321.5pt,169.5pt)}, width=92.5pt, height=94.5pt]
\addplot[ebar] coordinates {
 (1.1,0.990) (1.1,0.996) (1.1,nan)
 (1.2,0.982) (1.2,0.990) (1.2,nan)
 (1.3,0.963) (1.3,0.971) (1.3,nan)
 (1.4,0.849) (1.4,0.923) (1.4,nan)
 (1.5,0.669) (1.5,0.767) (1.5,nan)
 (1.6,0.632) (1.6,0.698) (1.6,nan)
 (1.7,0.489) (1.7,0.517) (1.7,nan)
 (1.8,0.112) (1.8,0.148)};
\addplot[ecap] coordinates {(1.4,0.849) (1.4,0.923) (1.5,0.669) (1.5,0.767) (1.6,0.632) (1.6,0.698)
 (1.7,0.489) (1.7,0.517) (1.8,0.112) (1.8,0.148)};
\addplot[epnt] coordinates {(1.1,0.993) (1.2,0.986) (1.3,0.967) (1.4,0.886) (1.5,0.718)
 (1.6,0.665) (1.7,0.503) (1.8,0.130) (1.9,0)};
\end{axis}

% (f) order parameter versus density, lower row
\begin{axis}[ups, at={(322.5pt,50pt)}, width=93pt, height=94.5pt]
\addplot[ebar] coordinates {
 (1.1,0.988) (1.1,0.994) (1.1,nan)
 (1.2,0.978) (1.2,0.986) (1.2,nan)
 (1.3,0.957) (1.3,0.965) (1.3,nan)
 (1.4,0.914) (1.4,0.924) (1.4,nan)
 (1.5,0.808) (1.5,0.832) (1.5,nan)
 (1.6,0.634) (1.6,0.672) (1.6,nan)
 (1.7,0.337) (1.7,0.369) (1.7,nan)
 (1.8,0.011) (1.8,0.027)};
\addplot[ecap] coordinates {(1.5,0.808) (1.5,0.832) (1.6,0.634) (1.6,0.672)
 (1.7,0.337) (1.7,0.369) (1.8,0.011) (1.8,0.027)};
\addplot[epnt] coordinates {(1.1,0.991) (1.2,0.982) (1.3,0.961) (1.4,0.919) (1.5,0.820)
 (1.6,0.653) (1.7,0.353) (1.8,0.019) (1.9,0)};
\end{axis}

% (a) R_phi, upper row
\begin{axis}[phase, ypanel, at={(61pt,154pt)}, width=120.75pt, height=112.5pt,
  xmin=0.64, xmax=2.142, ymin=0.153, ymax=18.66, point meta min=0, point meta max=1,
  cbar=13.5pt, colorbar style={width=108pt, xtick={0,0.2,0.4,0.6,0.8,1}, xticklabels={0,,,,,1}}]
\addplot[dots] table[x=x, y=y, meta=a] {\gridtop};
\addplot[only marks, mark=fourstar, mark size=2.6pt, black] coordinates {(1.703,16)};
\end{axis}
% (b) R_theta, upper row
\begin{axis}[phase, at={(182.5pt,154pt)}, width=120.5pt, height=112.5pt,
  xmin=0.647, xmax=2.174, ymin=0.153, ymax=18.66, point meta min=0, point meta max=0.55,
  cbar=15.5pt, colorbar style={width=104.5pt, xtick={0,0.1,0.2,0.3,0.4,0.5}, xticklabels={0,,,,,0.5}}]
\addplot[dots] table[x=x, y=y, meta=b] {\gridtop};
\end{axis}
% (d) R_phi, lower row
\begin{axis}[phase, ypanel, xpanel, at={(60.5pt,41.5pt)}, width=119.85pt, height=112pt,
  xmin=0.639, xmax=2.147, ymin=0.24, ymax=18.55, point meta min=0, point meta max=1]
\addplot[dots] table[x=x, y=y, meta=d] {\gridbottom};
\end{axis}
% (e) R_theta, lower row
\begin{axis}[phase, xpanel, at={(181.75pt,41.5pt)}, width=120.75pt, height=112pt,
  xmin=0.647, xmax=2.167, ymin=0.24, ymax=18.55, point meta min=0, point meta max=0.55]
\addplot[dots] table[x=x, y=y, meta=e] {\gridbottom};
\end{axis}

\node[anchor=base west, inner sep=0pt] at (125,541) {\lab\itshape R\raisebox{-0.45ex}{\fontsize{8}{9}\selectfont$\phi$}};
\node[anchor=base west, inner sep=0pt] at (370,541) {\lab\itshape R\raisebox{-0.45ex}{\fontsize{8}{9}\selectfont$\theta$}};

% panel letters and region names
\node[fill=white, inner sep=1pt, font=\lab] at (137,517) {(a)};
\node[fill=white, inner sep=1pt, font=\lab] at (380,514) {(b)};
\node[fill=white, inner sep=1pt, font=\lab] at (144,292) {(d)};
\node[fill=white, inner sep=1pt, font=\lab] at (379,295) {(e)};
\node[rotate=90, font=\lab] at (187,424) {Cycle};
\node[rotate=90, fill=white, inner sep=2pt, font=\lab] at (272.5,425.5) {Waves};
\node[rotate=90, font=\lab] at (325,426) {Arrest};
\node[rotate=90, font=\lab] at (186,194) {Cycle};
\node[rotate=90, fill=white, inner sep=2pt, font=\lab] at (275,196) {Waves};
\node[rotate=90, font=\lab] at (325,198) {Arrest};

% axis titles
\node[rotate=90, font=\lab] at (55,435) {Synchronization \textit{ε}};
\node[rotate=90, font=\lab] at (55,216) {Synchronization \textit{ε}};
\node[font=\lab] at (243,41) {Density \textit{ρ}};
\node[font=\lab] at (487,41) {Density \textit{ρ}};

% labels inside the two order-parameter panels
\node[font=\fontsize{11}{12}\selectfont] at (659,508) {$\Upsilon$};
\node[font=\lab] at (815,518) {(c)};
\node[font=\lab\itshape] at (818,345) {ρ};
\node[font=\fontsize{11}{12}\selectfont] at (660,272) {$\Upsilon$};
\node[font=\lab] at (815,275) {(f)};
\node[font=\lab\itshape] at (823,110) {ρ};
\end{tikzpicture}
\end{document}
